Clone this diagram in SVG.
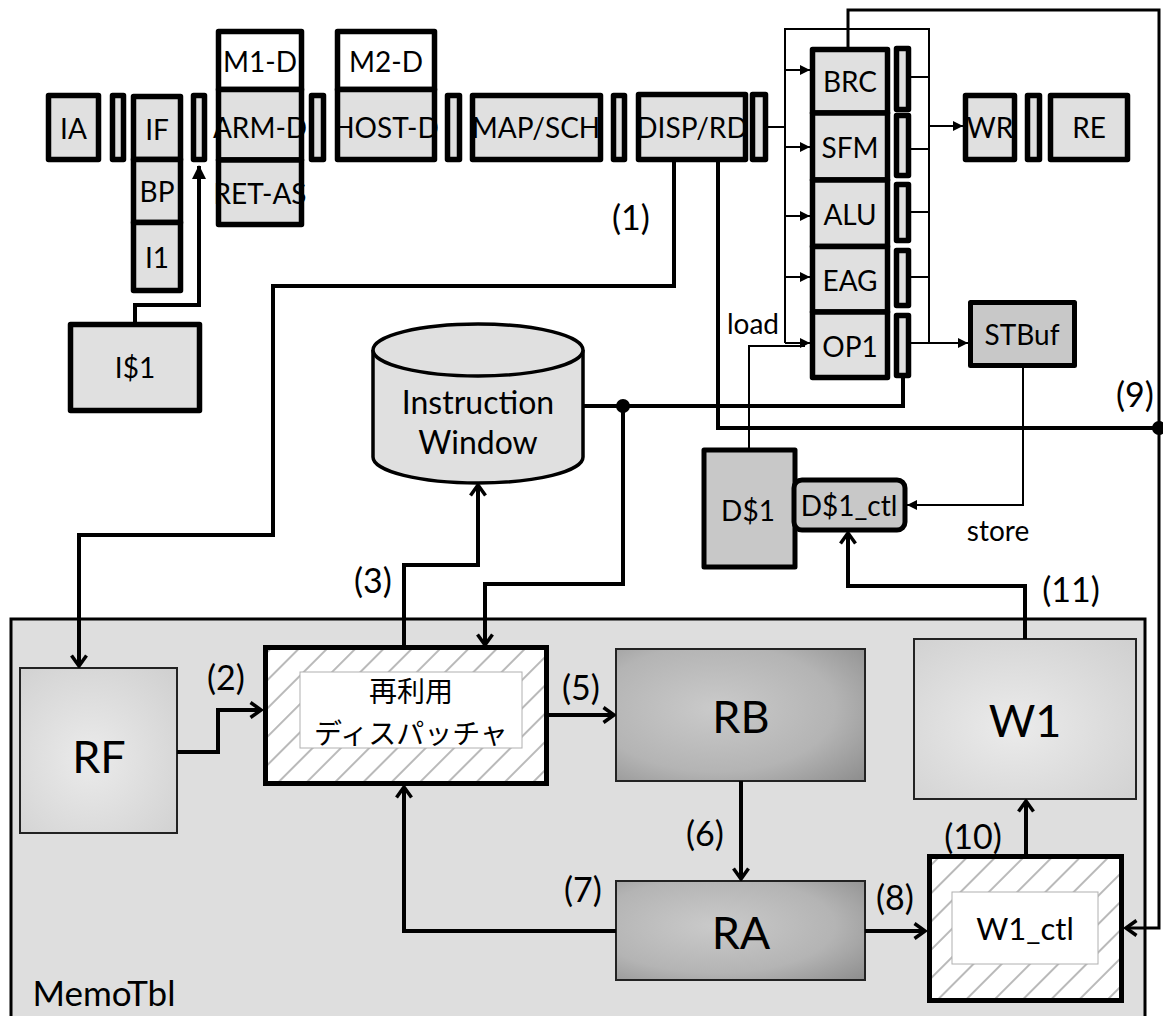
<svg xmlns="http://www.w3.org/2000/svg" width="1163" height="1016" viewBox="0 0 1163 1016">
<style>
text{font-family:Lato,"Noto Sans",sans-serif;fill:#000;text-anchor:middle;dominant-baseline:central}
.p{font-size:28px}
.n{font-size:34px}
.big{font-size:45px}
.jp{font-family:"Noto Sans CJK JP",sans-serif;font-size:28px}
.stg{fill:#e0e0e0;stroke:#000;stroke-width:5.5;stroke-linejoin:round}
.wht{fill:#fff;stroke:#000;stroke-width:5.5;stroke-linejoin:round}
.dk{fill:#c8c8c8;stroke:#000;stroke-width:5;stroke-linejoin:round}
.th{fill:none;stroke:#000;stroke-width:4;stroke-linejoin:miter}
.tn{fill:none;stroke:#000;stroke-width:2}
.md{fill:none;stroke:#000;stroke-width:3}
.hat{fill:url(#hatch);stroke:#000;stroke-width:5}
.lbl{fill:#fff;stroke:#b0b0b0;stroke-width:1}
</style>
<defs>
<pattern id="hatch" patternUnits="userSpaceOnUse" width="20" height="20" patternTransform="rotate(45)">
<rect width="20" height="20" fill="#fff"/>
<line x1="10" y1="0" x2="10" y2="20" stroke="#a8a8a8" stroke-width="1.6"/>
</pattern>
<radialGradient id="gDark" cx="40%" cy="45%" r="80%">
<stop offset="0" stop-color="#cacaca"/>
<stop offset="0.6" stop-color="#b4b4b4"/>
<stop offset="1" stop-color="#8e8e8e"/>
</radialGradient>
<radialGradient id="gLight" cx="45%" cy="55%" r="75%">
<stop offset="0" stop-color="#ebebeb"/>
<stop offset="1" stop-color="#d0d0d0"/>
</radialGradient>
<marker id="open" viewBox="0 0 14 18" refX="12" refY="9" markerWidth="14" markerHeight="18" markerUnits="userSpaceOnUse" orient="auto">
<path d="M1.5,1.5 L12,9 L1.5,16.5" fill="none" stroke="#000" stroke-width="3.5"/>
</marker>
<marker id="fillBig" viewBox="0 0 14 14" refX="13" refY="7" markerWidth="14" markerHeight="14" markerUnits="userSpaceOnUse" orient="auto">
<path d="M0,0 L14,7 L0,14 Z" fill="#000"/>
</marker>
<marker id="fillSm" viewBox="0 0 10 10" refX="10" refY="5" markerWidth="10" markerHeight="10" markerUnits="userSpaceOnUse" orient="auto">
<path d="M0,0 L10,5 L0,10 Z" fill="#000"/>
</marker>
</defs>
<rect width="1163" height="1016" fill="#fff"/>

<g id="memotbl">
<rect x="11" y="619" width="1134" height="420" fill="#dedede" stroke="#000" stroke-width="3"/>
<text x="104" y="992" style="font-size:35px">MemoTbl</text>
</g>

<g id="IA"><rect class="stg" x="48.5" y="95.5" width="50" height="64"/><text class="p" x="73.5" y="128">IA</text></g>
<g id="latch1"><rect class="stg" x="112.5" y="95.5" width="11" height="64"/></g>
<g id="IF"><rect class="stg" x="133.5" y="96.5" width="47" height="63"/><text class="p" x="157" y="129">IF</text></g>
<g id="BP"><rect class="stg" x="133.5" y="159.5" width="47" height="63"/><text class="p" x="157" y="191">BP</text></g>
<g id="I1"><rect class="stg" x="133.5" y="222.5" width="47" height="68"/><text class="p" x="157" y="257">I1</text></g>
<g id="latch2"><rect class="stg" x="193.5" y="95.5" width="11" height="64"/></g>
<g id="M1-D"><rect class="wht" x="218.5" y="31.5" width="83" height="58"/><text class="p" x="260" y="61">M1-D</text></g>
<g id="ARM-D"><rect class="stg" x="218.5" y="89.5" width="83" height="70.5"/><text class="p" x="260" y="127">ARM-D</text></g>
<g id="RET-AS"><rect class="stg" x="218.5" y="160" width="83" height="64.5"/><text class="p" x="260" y="193">RET-AS</text></g>
<g id="latch3"><rect class="stg" x="311.5" y="95.5" width="12" height="64"/></g>
<g id="M2-D"><rect class="wht" x="337.5" y="31.5" width="97" height="58"/><text class="p" x="386" y="61">M2-D</text></g>
<g id="HOST-D"><rect class="stg" x="337.5" y="89.5" width="97" height="70"/><text class="p" x="386" y="127">HOST-D</text></g>
<g id="latch4"><rect class="stg" x="447.5" y="95.5" width="12" height="64"/></g>
<g id="MAP-SCH"><rect class="stg" x="472.5" y="95.5" width="128" height="64"/><text class="p" x="536" y="127">MAP/SCH</text></g>
<g id="latch5"><rect class="stg" x="613.5" y="95.5" width="11" height="64"/></g>
<g id="DISP-RD"><rect class="stg" x="638.5" y="94.5" width="107" height="65"/><text class="p" x="692" y="127">DISP/RD</text></g>
<g id="latch6"><rect class="stg" x="752.5" y="94.5" width="13" height="65"/></g>

<g id="BRC"><rect class="stg" x="812.5" y="49.5" width="75" height="63.5"/><text class="p" x="850" y="81">BRC</text></g>
<g id="SFM"><rect class="stg" x="812.5" y="113" width="75" height="67"/><text class="p" x="850" y="147">SFM</text></g>
<g id="ALU"><rect class="stg" x="812.5" y="180" width="75" height="66.5"/><text class="p" x="850" y="214">ALU</text></g>
<g id="EAG"><rect class="stg" x="812.5" y="246.5" width="75" height="65.5"/><text class="p" x="850" y="280">EAG</text></g>
<g id="OP1"><rect class="stg" x="812.5" y="312" width="75" height="65.5"/><text class="p" x="850" y="346">OP1</text></g>
<g id="latchBRC"><rect class="stg" x="896.5" y="48.5" width="12" height="61"/></g>
<g id="latchSFM"><rect class="stg" x="896.5" y="115.5" width="12" height="60"/></g>
<g id="latchALU"><rect class="stg" x="896.5" y="184.5" width="12" height="56"/></g>
<g id="latchEAG"><rect class="stg" x="896.5" y="250.5" width="12" height="55"/></g>
<g id="latchOP1"><rect class="stg" x="896.5" y="315.5" width="12" height="60"/></g>

<g id="WR"><rect class="stg" x="965.5" y="95.5" width="49" height="64"/><text class="p" x="990" y="127">WR</text></g>
<g id="latch8"><rect class="stg" x="1027.5" y="95.5" width="12" height="64"/></g>
<g id="RE"><rect class="stg" x="1050.5" y="95.5" width="77" height="64"/><text class="p" x="1089" y="127">RE</text></g>

<g id="STBuf"><rect class="dk" x="970.5" y="302.5" width="104" height="63"/><text class="p" x="1022" y="334">STBuf</text></g>
<g id="I1cache"><rect class="stg" x="70.5" y="324.5" width="129" height="86"/><text class="p" x="135" y="367">I$1</text></g>

<g id="IW">
<path d="M373,350 L373,457 A105,26 0 0 0 583,457 L583,350" fill="#e0e0e0" stroke="#000" stroke-width="3.5"/>
<ellipse cx="478" cy="350" rx="105" ry="26" fill="#e0e0e0" stroke="#000" stroke-width="3.5"/>
<text x="478" y="401" style="font-size:32px">Instruction</text>
<text x="478" y="441" style="font-size:32px">Window</text>
</g>

<g id="D1"><rect class="dk" x="704" y="450" width="91" height="117" stroke-width="4"/><text class="p" x="748" y="510">D$1</text></g>
<g id="D1ctl"><rect class="dk" x="794" y="480" width="111" height="50" rx="8" stroke-width="4"/><text class="p" x="849" y="505">D$1_ctl</text></g>

<g id="RF"><rect x="20" y="668" width="157" height="165" fill="url(#gLight)" stroke="#222" stroke-width="2"/><text class="big" x="99" y="756">RF</text></g>
<g id="dispatcher">
<rect class="hat" x="265.5" y="647.5" width="281" height="136"/>
<rect class="lbl" x="300" y="672" width="222" height="76"/>
<text class="jp" x="411" y="690">再利用</text>
<text class="jp" x="411" y="732">ディスパッチャ</text>
</g>
<g id="RB"><rect x="616" y="649" width="249" height="132" fill="url(#gDark)" stroke="#222" stroke-width="2"/><text class="big" x="741" y="716">RB</text></g>
<g id="RA"><rect x="616" y="881" width="249" height="99" fill="url(#gDark)" stroke="#222" stroke-width="2"/><text class="big" x="741" y="932">RA</text></g>
<g id="W1"><rect x="914" y="639" width="222" height="160" fill="url(#gLight)" stroke="#222" stroke-width="2"/><text class="big" x="1025" y="720">W1</text></g>
<g id="W1ctl">
<rect class="hat" x="929.5" y="856.5" width="192" height="144"/>
<rect class="lbl" x="952" y="892" width="146" height="72"/>
<text x="1025" y="928" style="font-size:31px">W1_ctl</text>
</g>

<g id="connectors">
<path class="th" d="M135,322 V305 H199 V166" marker-end="url(#fillBig)"/>
<path class="tn" d="M768,127 H785"/>
<path class="tn" d="M785,343 V29 H929 V343"/>
<path class="tn" d="M785,70 H810" marker-end="url(#fillSm)"/>
<path class="tn" d="M785,147 H810" marker-end="url(#fillSm)"/>
<path class="tn" d="M785,216 H810" marker-end="url(#fillSm)"/>
<path class="tn" d="M785,277 H810" marker-end="url(#fillSm)"/>
<path class="tn" d="M785,343 H810" marker-end="url(#fillSm)"/>
<path class="tn" d="M911,77 H929 M911,149 H929 M911,212 H929 M911,277 H929 M911,343 H929"/>
<path class="tn" d="M929,126 H963" marker-end="url(#fillSm)"/>
<path class="tn" d="M929,343 H968" marker-end="url(#fillSm)"/>
<path class="tn" d="M749,448 V346 H805"/>
<text class="p" x="753" y="323">load</text>
<path class="tn" d="M1023,368 V505 H907" marker-end="url(#fillSm)"/>
<text class="p" x="998" y="530">store</text>
<path class="th" d="M674,162 V286 H273 V535 H79 V666" marker-end="url(#open)"/>
<text class="n" x="631" y="216">(1)</text>
<path class="th" d="M718,162 V428 H1159"/>
<path class="th" d="M583,406 H903 V378"/>
<circle cx="623" cy="406" r="7"/>
<circle cx="1159" cy="428" r="7"/>
<text class="n" x="1135" y="393">(9)</text>
<path class="th" d="M623,406 V584 H485 V645" marker-end="url(#open)"/>
<path class="th" d="M404,645 V565 H478 V485" marker-end="url(#open)"/>
<text class="n" x="373" y="579">(3)</text>
<path class="th" d="M177,752 H218 V710 H261" marker-end="url(#open)"/>
<text class="n" x="226" y="676">(2)</text>
<path class="th" d="M548,715 H614" marker-end="url(#open)"/>
<text class="n" x="581" y="686">(5)</text>
<path class="th" d="M741,781 V879" marker-end="url(#open)"/>
<text class="n" x="705" y="832">(6)</text>
<path class="th" d="M616,931 H404 V787" marker-end="url(#open)"/>
<text class="n" x="583" y="888">(7)</text>
<path class="th" d="M865,931 H925" marker-end="url(#open)"/>
<text class="n" x="895" y="896">(8)</text>
<path class="th" d="M1026,854 V801" marker-end="url(#open)"/>
<text class="n" x="973" y="835">(10)</text>
<path class="th" d="M1025,639 V586 H848 V533" marker-end="url(#open)"/>
<text class="n" x="1071" y="588">(11)</text>
<path class="md" d="M848,47 V10 H1159 V928 H1126" marker-end="url(#open)"/>
</g>
</svg>
